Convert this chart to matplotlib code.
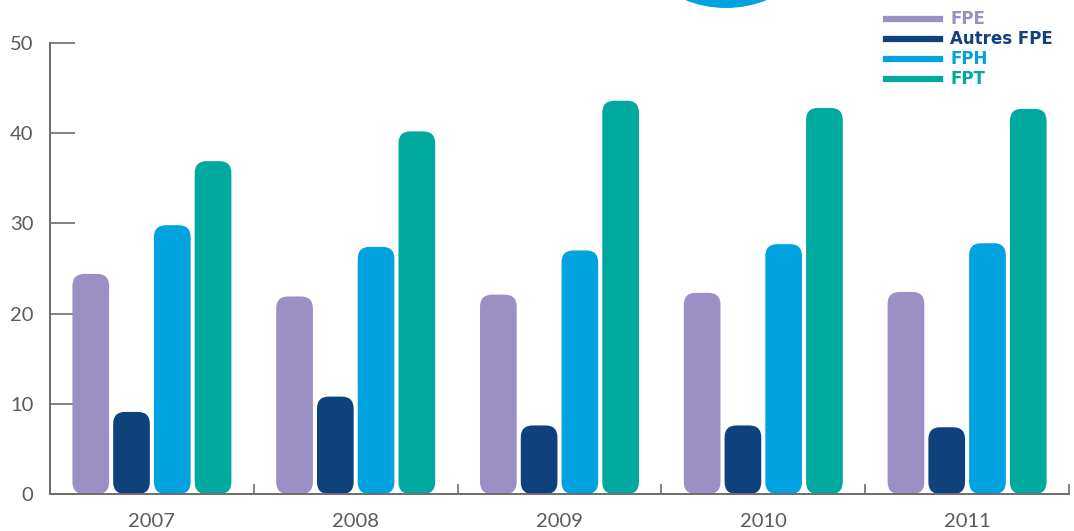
import matplotlib
matplotlib.use("Agg")
import matplotlib.pyplot as plt
from matplotlib.patches import FancyBboxPatch, Ellipse
from matplotlib.lines import Line2D
import numpy as np

years = ["2007", "2008", "2009", "2010", "2011"]
series = ["FPE", "Autres FPE", "FPH", "FPT"]
fpe = [24.4, 21.9, 22.1, 22.3, 22.4]
autres_fpe = [9.1, 10.8, 7.6, 7.6, 7.4]
fph = [29.8, 27.4, 27.0, 27.7, 27.8]
fpt = [36.9, 40.2, 43.6, 42.8, 42.7]
colors = ["#9b8fc4", "#0f417d", "#00a3e0", "#00a99d"]
yticks = [0, 10, 20, 30, 40, 50]

W, H = 1074, 531
fig = plt.figure(figsize=(W / 100, H / 100), dpi=100)
ax = fig.add_axes([50 / W, 37 / H, (1069 - 50) / W, (494 - 43) / H])
ax.set_xlim(-0.5, len(years) - 0.5)
ax.set_ylim(0, 50)

# rounded bars: radius expressed in pixels, converted to data units
bar_w = 0.18
offsets = [-0.3, -0.1, 0.1, 0.3]
px_per_x = (1069 - 50) / len(years)
px_per_y = (494 - 43) / 50
radius_px = 12
rx = radius_px / px_per_x
aspect = (radius_px / px_per_y) / rx

x = np.arange(len(years))
for vals, off, col in zip([fpe, autres_fpe, fph, fpt], offsets, colors):
    for xi, v in zip(x, vals):
        p = FancyBboxPatch((xi + off - bar_w / 2, 0), bar_w, v,
                           boxstyle=f"round,pad=0,rounding_size={rx}",
                           mutation_aspect=aspect, facecolor=col,
                           edgecolor="none", zorder=2)
        ax.add_patch(p)

axis_col = "#6d6d6d"
for s in ["top", "right"]:
    ax.spines[s].set_visible(False)
for s in ["left", "bottom"]:
    ax.spines[s].set_color(axis_col)
    ax.spines[s].set_linewidth(1.4)
    ax.spines[s].set_zorder(3)

ax.set_yticks(yticks)
ax.set_yticklabels([str(t) for t in yticks])
ax.tick_params(axis="y", direction="in", length=18, width=1.2, color=axis_col,
               labelsize=14.5, labelcolor="#5a5a5a", pad=12)

ax.set_xticks(x)
ax.set_xticklabels(years)
ax.tick_params(axis="x", which="major", length=0, labelsize=14.5,
               labelcolor="#5a5a5a", pad=14)
ax.set_xticks(np.arange(-0.5, len(years)), minor=True)
ax.tick_params(axis="x", which="minor", direction="in", length=7.5, width=1.2,
               color=axis_col)
for lab in ax.get_xticklabels() + ax.get_yticklabels():
    lab.set_fontfamily("Lato")
    lab.set_fontweight("normal")

# legend
leg_y = [19, 39, 59, 79]
for yy, name, col in zip(leg_y, series, colors):
    fig.add_artist(Line2D([886 / W, 940 / W], [1 - yy / H, 1 - yy / H],
                          color=col, linewidth=4.5, transform=fig.transFigure))
    fig.text(950 / W, 1 - yy / H, name, color=col, fontsize=12,
             fontweight="bold", family=["Liberation Sans Narrow", "DejaVu Sans"],
             va="center", ha="left")

# decorative disc at top edge
r = 109
fig.add_artist(Ellipse((726 / W, 1 + 101 / H), 2 * r / W, 2 * r / H,
                       transform=fig.transFigure,
                       facecolor="#00a3e0", edgecolor="none"))

fig.savefig("out.png", dpi=100)
